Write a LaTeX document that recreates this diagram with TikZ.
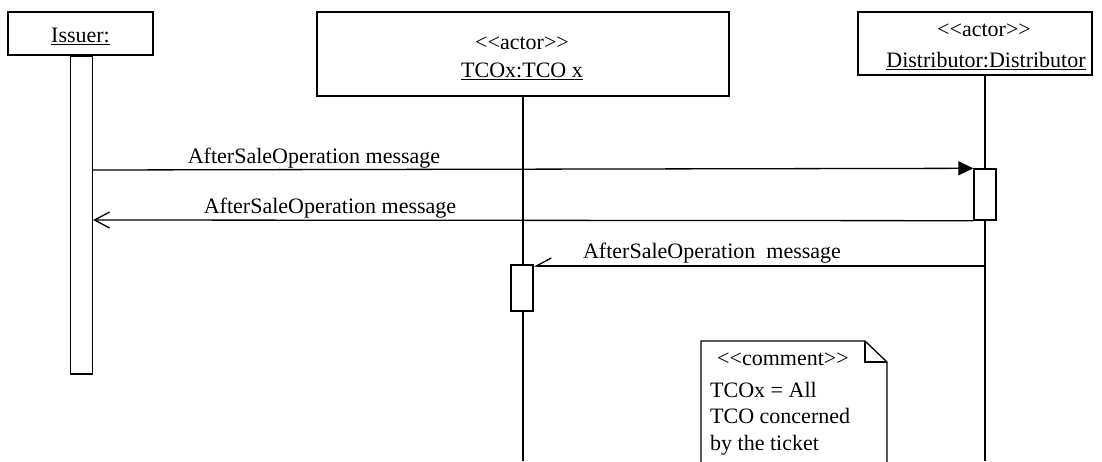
\documentclass[tikz,border=0pt]{standalone}
\usepackage{fontspec}
\setmainfont{Liberation Serif}
\usetikzlibrary{arrows.meta}
\begin{document}
\begin{tikzpicture}[x=1pt,y=-1pt,
 objbox/.style={draw, line width=1.6pt, fill=white, inner sep=0pt},
 act/.style={draw, line width=1.4pt, fill=white, inner sep=0pt, minimum width=22pt},
 lbl/.style={font=\fontsize{22}{26}\selectfont, inner sep=0pt, anchor=base},
 nlbl/.style={font=\fontsize{22}{26}\selectfont, inner sep=0pt, anchor=base west},
 life/.style={line width=1.3pt},
 msg/.style={line width=1.3pt}]
\useasboundingbox (0,0) rectangle (1102,461);
% object boxes
\node[objbox, minimum width=145pt, minimum height=43pt] (issuer) at (80.5,33.5) {};
\node[lbl] (issuerT) at (80.5,42) {\underline{Issuer:}};
\node[objbox, minimum width=412pt, minimum height=84pt] (tco) at (523,54) {};
\node[lbl] (tcoS) at (522,49) {<{}<actor>{}>};
\node[lbl] (tcoT) at (522,77) {\underline{TCOx:TCO x}};
\node[objbox, minimum width=234pt, minimum height=63pt] (dist) at (975,43.5) {};
\node[lbl] (distS) at (984,36) {<{}<actor>{}>};
\node[lbl] (distT) at (986,67) {\underline{Distributor:Distributor}};
% lifelines
\coordinate (tcoEnd) at (523,461);
\coordinate (distTop) at (985,75);
\coordinate (distEnd) at (985,461);
\draw[life] (tco.south) -- (tcoEnd);
\draw[life] (distTop) -- (distEnd);
% activations
\node[act, minimum height=318pt] (issuerAct) at (81.5,215) {};
\node[act, minimum height=51pt] (distAct) at (985,194.5) {};
\node[act, minimum height=46pt] (tcoAct) at (522,288) {};
% messages
\draw[msg,-{Triangle[length=15pt,width=14pt]}] (issuerAct.east |- 0,170) -- (distAct.north west);
\node[lbl] (m1) at (314,163) {AfterSaleOperation message};
\draw[msg,-{Straight Barb[length=15pt,width=16pt]}] (distAct.south west) -- (issuerAct.east |- 0,220);
\node[lbl] (m2) at (330,213) {AfterSaleOperation message};
\coordinate (m3s) at (985,266);
\draw[msg,-{Straight Barb[right,length=15pt,width=16pt]}] (m3s) -- (tcoAct.east |- m3s);
\node[lbl] (m3) at (712,258) {AfterSaleOperation\ \ message};
% comment note
\draw[line width=1.3pt, fill=white] (701,462) -- (701,341) -- (865,341) -- (887,362) -- (887,462);
\draw[line width=1.3pt] (865,341) -- (865,362) -- (887,362);
\node[nlbl] (c1) at (717,365) {<{}<comment>{}>};
\node[nlbl] (c2) at (710,397) {TCOx = All};
\node[nlbl] (c3) at (710,423) {TCO concerned};
\node[nlbl] (c4) at (710,450) {by the ticket};
\end{tikzpicture}
\end{document}
